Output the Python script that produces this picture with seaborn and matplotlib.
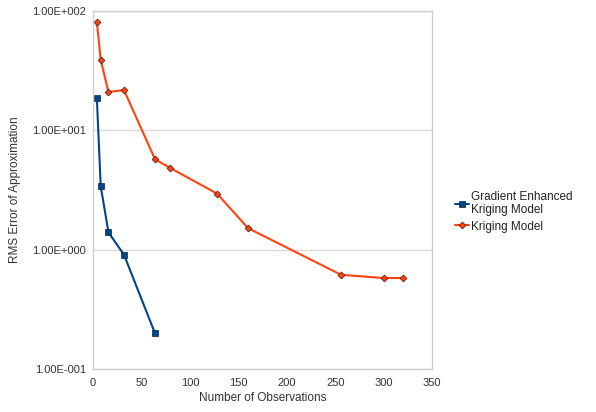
# RMS error vs number of observations, kriging vs gradient enhanced kriging
import math
import pandas as pd
import matplotlib
matplotlib.use("Agg")
import matplotlib.pyplot as plt
import seaborn as sns
from matplotlib.ticker import FuncFormatter, LogLocator, NullLocator

# Read-off data
gek_obs = [4, 8, 16, 32, 64]
gek_err = [18.6, 3.4, 1.40, 0.91, 0.20]
krig_obs = [4, 8, 16, 32, 64, 80, 128, 160, 256, 300, 320]
krig_err = [81, 39, 21, 21.8, 5.74, 4.83, 2.96, 1.52, 0.618, 0.58, 0.58]

gek_label = "Gradient Enhanced\nKriging Model"
krig_label = "Kriging Model"

df = pd.concat([
    pd.DataFrame({"obs": gek_obs, "err": gek_err, "model": gek_label}),
    pd.DataFrame({"obs": krig_obs, "err": krig_err, "model": krig_label}),
])


def sci_label(v, pos):
    e = round(math.log10(v))
    return "%.2fE%s%03d" % (v / 10 ** e, "+" if e >= 0 else "-", abs(e))


sns.set_style("white")
plt.rcParams["font.family"] = ["Liberation Sans", "DejaVu Sans"]

fig = plt.figure(figsize=(5.96, 4.12), dpi=100)
ax = fig.add_axes([0.156, 0.104, 0.569, 0.869])

palette = {gek_label: "#004586", krig_label: "#ff420e"}
markers = {gek_label: "s", krig_label: "D"}
sns.lineplot(data=df, x="obs", y="err", hue="model", style="model",
             palette=palette, markers=markers, dashes=False, ax=ax,
             linewidth=1.5, markeredgecolor="#3a1a10", markeredgewidth=0.5,
             legend=True)
for line in ax.get_lines():
    if line.get_color() == "#004586":
        line.set_markersize(5)
        line.set_markeredgecolor("#00254a")
    else:
        line.set_markersize(3.5)

ax.set_yscale("log")
ax.set_ylim(0.1, 100)
ax.set_xlim(0, 350)
ax.set_xticks(range(0, 351, 50))
ax.yaxis.set_major_locator(LogLocator(base=10))
ax.yaxis.set_minor_locator(NullLocator())
ax.yaxis.set_major_formatter(FuncFormatter(sci_label))

ax.grid(axis="y", color="#d9d9d9", linewidth=1)
for s in ax.spines.values():
    s.set_color("#cfcfcf")
    s.set_linewidth(1)
ax.tick_params(axis="both", labelsize=8, colors="#333333", length=3,
               color="#bbbbbb", width=0.8)
ax.tick_params(axis="y", pad=2)
ax.set_xlabel("Number of Observations", fontsize=8.5, color="#333333", labelpad=3)
ax.set_ylabel("RMS Error of Approximation", fontsize=8.5, color="#333333", labelpad=8)

leg = ax.legend(loc="center left", bbox_to_anchor=(1.035, 0.44), frameon=False,
                fontsize=8.5, handlelength=1.2, handletextpad=0.2,
                labelspacing=0.35, title=None)
for t in leg.get_texts():
    t.set_color("#222222")

fig.savefig("out.png", dpi=100)
